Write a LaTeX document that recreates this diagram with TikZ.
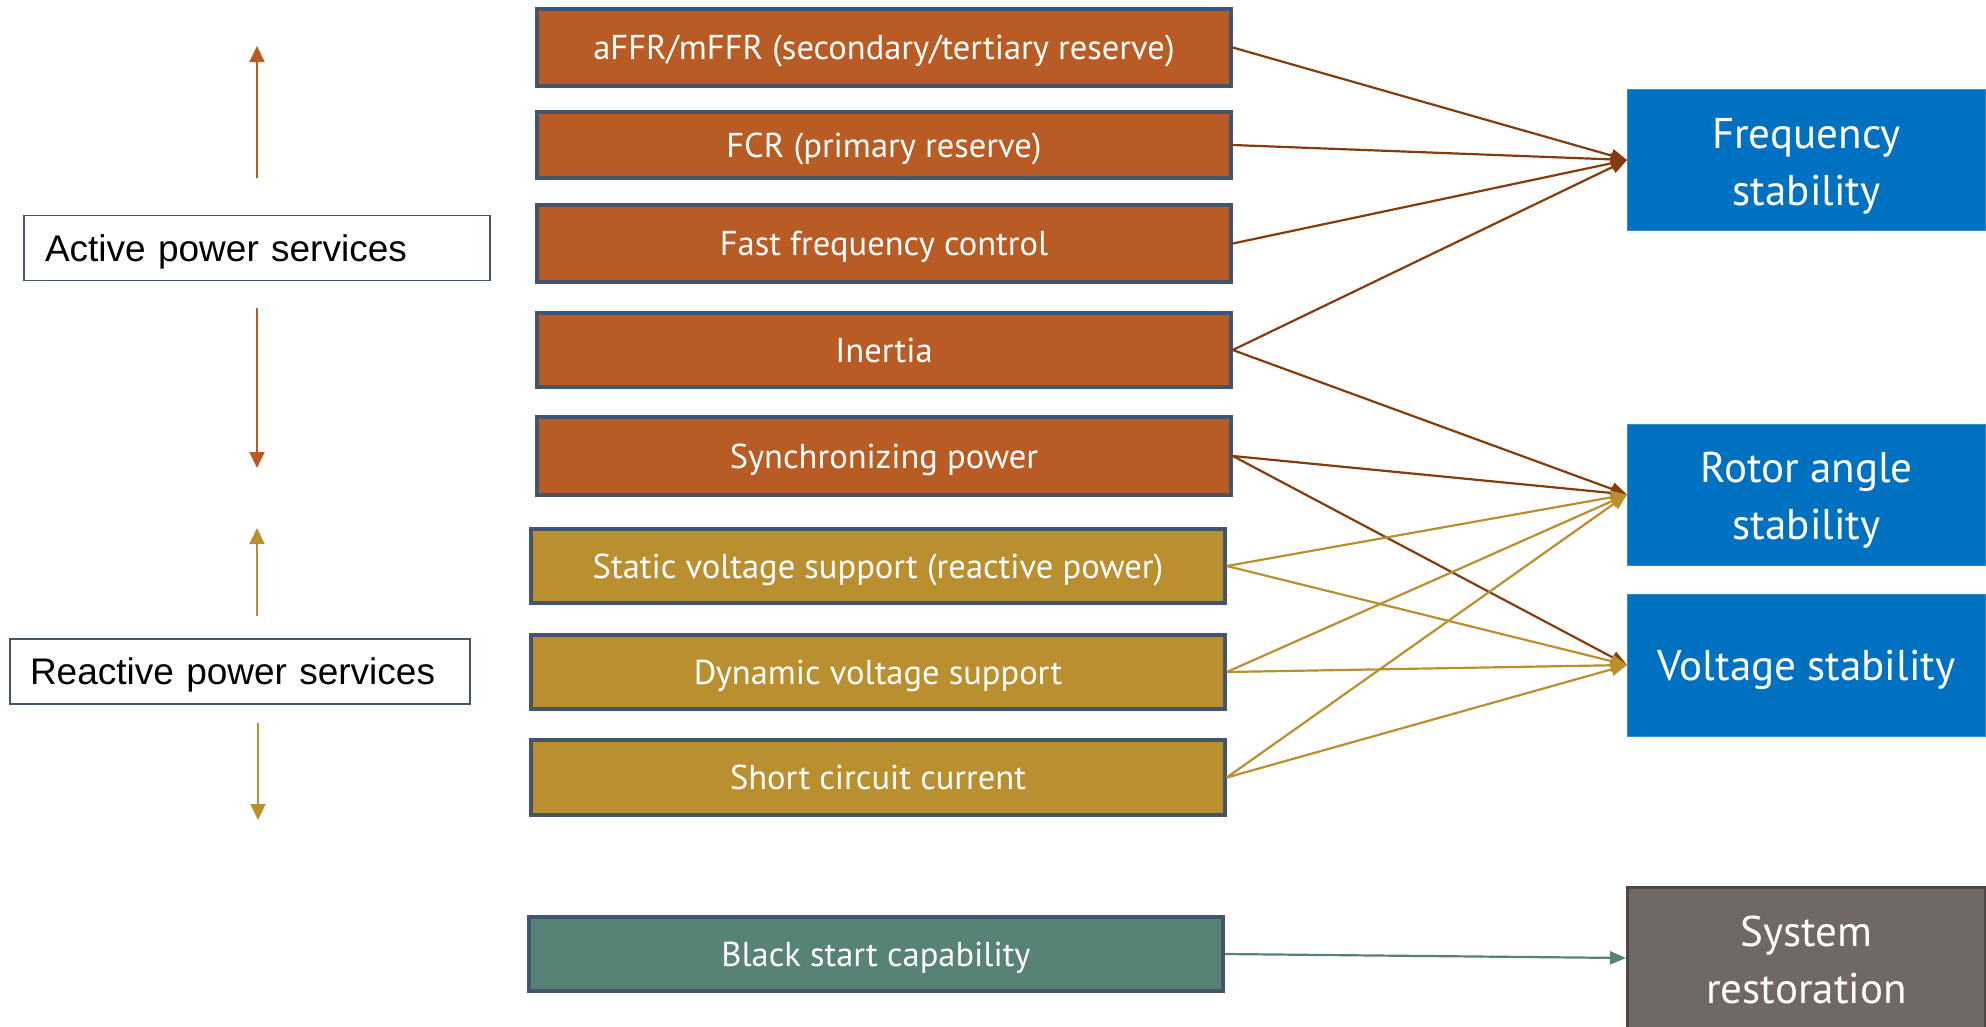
\documentclass[tikz,border=0pt]{standalone}
\usepackage{fontspec}
\setmainfont{PT Sans}
\newfontfamily\arialfont{Liberation Sans}
\usetikzlibrary{arrows.meta}
\definecolor{orangefill}{HTML}{B95B24}
\definecolor{goldfill}{HTML}{BA8F30}
\definecolor{tealfill}{HTML}{578276}
\definecolor{greyfill}{HTML}{716866}
\definecolor{greyborder}{HTML}{4E4644}
\definecolor{stabblue}{HTML}{0070C0}
\definecolor{boxborder}{HTML}{44546A}
\definecolor{browncol}{HTML}{843C0C}
\begin{document}
\begin{tikzpicture}[x=1pt,y=-1pt,
  svc/.style={draw=boxborder, line width=3.5pt, minimum width=694pt, text=white,
    font=\fontsize{34.5}{40}\selectfont, inner sep=0pt, text height=24pt, text depth=0pt},
  stab/.style={fill=stabblue, draw=stabblue!80!white, line width=1pt, minimum width=358pt,
    minimum height=141pt, text=white, align=center, font=\fontsize{43}{57}\selectfont, inner sep=0pt,
    text height=31pt, text depth=0pt},
  twoline/.style={text height=90pt},
  lbl/.style={draw=boxborder, line width=1.5pt, fill=white, align=left, inner ysep=0pt,
    minimum height=65pt, font=\arialfont\fontsize{37}{44}\selectfont, text height=26.5pt, text depth=0pt},
  conn/.style={line width=2.2pt, -{Triangle[length=16pt,width=13pt]}},
  varrow/.style={line width=2pt, -{Triangle[length=16pt,width=15pt]}}
]
\useasboundingbox (0,0) rectangle (1986,1026);

% left labels
\node[lbl, text width=424pt, inner xsep=21pt] (active) at (257,248) {Active power services};
\node[lbl, text width=420pt, inner xsep=20pt] (reactive) at (240,671.5) {Reactive power services};

% vertical arrows
\coordinate (a1s) at (257,178); \coordinate (a1e) at (257,46);
\coordinate (a2s) at (257,308); \coordinate (a2e) at (257,468);
\coordinate (r1s) at (257,616); \coordinate (r1e) at (257,528);
\coordinate (r2s) at (258,723); \coordinate (r2e) at (258,820);
\draw[varrow, draw=orangefill] (a1s) -- (a1e);
\draw[varrow, draw=orangefill] (a2s) -- (a2e);
\draw[varrow, draw=goldfill] (r1s) -- (r1e);
\draw[varrow, draw=goldfill] (r2s) -- (r2e);

% service boxes
\node[svc, fill=orangefill, minimum height=77pt] (affr) at (884,47.5) {aFFR/mFFR (secondary/tertiary reserve)};
\node[svc, fill=orangefill, minimum height=66pt] (fcr) at (884,145) {FCR (primary reserve)};
\node[svc, fill=orangefill, minimum height=77pt] (ffc) at (884,243.5) {Fast frequency control};
\node[svc, fill=orangefill, minimum height=74pt] (inertia) at (884,350) {Inertia};
\node[svc, fill=orangefill, minimum height=78pt] (sync) at (884,456) {Synchronizing power};
\node[svc, fill=goldfill, minimum height=74pt] (static) at (878,566) {Static voltage support (reactive power)};
\node[svc, fill=goldfill, minimum height=74pt] (dynamic) at (878,672) {Dynamic voltage support};
\node[svc, fill=goldfill, minimum height=75pt] (short) at (878,777.5) {Short circuit current};
\node[svc, fill=tealfill, minimum height=74pt] (black) at (876,954) {Black start capability};

% stability boxes
\node[stab, twoline] (freq) at (1806.5,160) {Frequency\\stability};
\node[stab, twoline] (rotor) at (1806.5,494.5) {Rotor angle\\stability};
\node[stab, minimum height=142pt] (volt) at (1806.5,665) {Voltage stability};
\node[stab, twoline, fill=greyfill, draw=greyborder, line width=3pt, minimum height=141pt] (sysres) at (1806.5,958) {System\\restoration};

% connectors
\draw[conn, draw=browncol] (affr.east) -- (freq.west);
\draw[conn, draw=browncol] (fcr.east) -- (freq.west);
\draw[conn, draw=browncol] (ffc.east) -- (freq.west);
\draw[conn, draw=browncol] (inertia.east) -- (freq.west);
\draw[conn, draw=browncol] (inertia.east) -- (rotor.west);
\draw[conn, draw=browncol] (sync.east) -- (rotor.west);
\draw[conn, draw=browncol] (sync.east) -- (volt.west);
\draw[conn, draw=goldfill] (static.east) -- (rotor.west);
\draw[conn, draw=goldfill] (static.east) -- (volt.west);
\draw[conn, draw=goldfill] (dynamic.east) -- (rotor.west);
\draw[conn, draw=goldfill] (dynamic.east) -- (volt.west);
\draw[conn, draw=goldfill] (short.east) -- (rotor.west);
\draw[conn, draw=goldfill] (short.east) -- (volt.west);
\draw[conn, draw=tealfill] (black.east) -- (sysres.west);
\end{tikzpicture}
\end{document}
